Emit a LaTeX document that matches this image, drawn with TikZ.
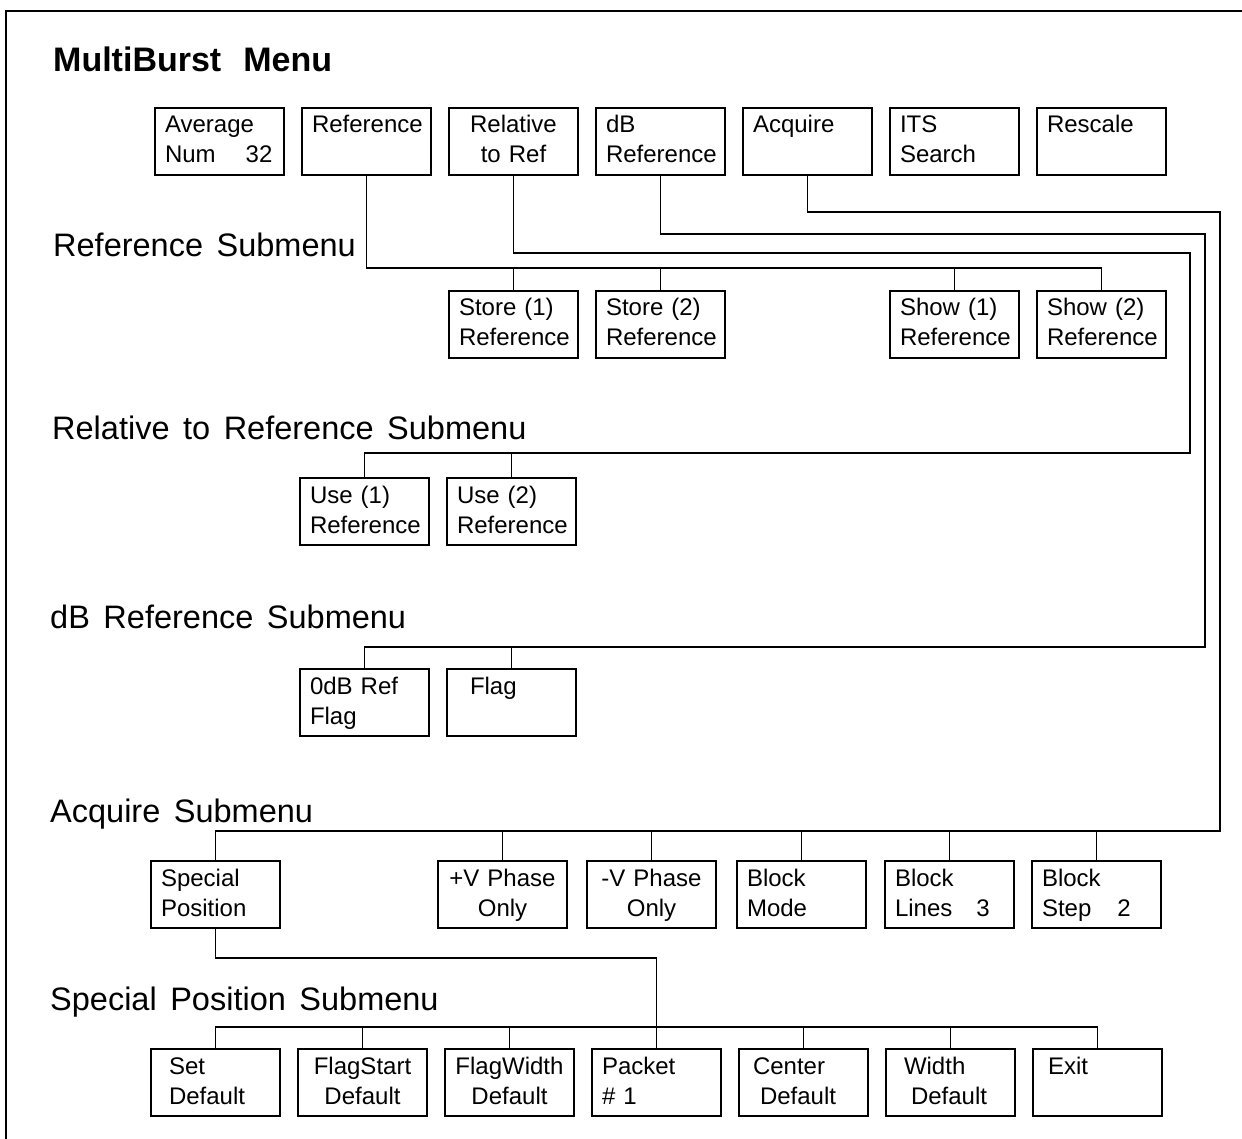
\documentclass[tikz,border=0pt]{standalone}
\usepackage{fontspec}
\setmainfont{Liberation Sans}
\newfontfamily\headfont[WordSpace=1.5]{Liberation Sans}
\usetikzlibrary{positioning}

\newcommand\boxfont{\fontsize{24}{30}\selectfont}

\begin{document}
\begin{tikzpicture}[x=1pt,y=-1pt,node distance=18pt,
	box/.style={draw,line width=1.5pt,outer sep=0pt,minimum width=129pt,minimum height=67pt,
		text width=109pt,inner xsep=10pt,inner ysep=6pt,
		text height=19pt,text depth=36pt,align=left,font=\boxfont},
	cbox/.style={box,align=center},
	head/.style={anchor=base west,inner sep=0pt,font=\headfont\fontsize{32.5}{36}\selectfont},
	wire/.style={line width=1.5pt}]
	\useasboundingbox (0,0) rectangle (1242,1139);
	\draw[line width=2.5pt] (6,1139) -- (6,11) -- (1242,11);

	% main menu
	\node[head,font=\headfont\bfseries\fontsize{34}{36}\selectfont] (title) at (53,72) {MultiBurst\hspace{22pt}Menu};
	\node[box,anchor=north west] (avg) at (155,108) {Average\\Num\hspace{30pt}32};
	\node[box,right=of avg] (ref) {Reference};
	\node[cbox,right=of ref] (rel) {Relative\\to Ref};
	\node[box,right=of rel] (dbr) {dB\\Reference};
	\node[box,right=of dbr] (acq) {Acquire};
	\node[box,right=of acq] (its) {ITS\\Search};
	\node[box,right=of its] (resc) {Rescale};

	% reference submenu
	\node[head] (refhead) at (53,257) {Reference Submenu};
	\node[box,anchor=north west] (st1) at (449,291) {Store (1)\\Reference};
	\node[box,right=of st1] (st2) {Store (2)\\Reference};
	\node[box,anchor=north west] (sh1) at (890,291) {Show (1)\\Reference};
	\node[box,right=of sh1] (sh2) {Show (2)\\Reference};

	% relative to reference submenu
	\node[head] (relhead) at (52,439) {Relative to Reference Submenu};
	\node[box,anchor=north west] (use1) at (300,478) {Use (1)\\Reference};
	\node[box,right=of use1] (use2) {Use (2)\\Reference};

	% dB reference submenu
	\node[head] (dbhead) at (50,628) {dB Reference Submenu};
	\node[box,anchor=north west] (zdb) at (300,669) {0dB Ref\\Flag};
	\node[box,right=of zdb] (flag) {\hspace*{13pt}Flag};

	% acquire submenu
	\node[head] (acqhead) at (50,822) {Acquire Submenu};
	\node[box,anchor=north west] (spos) at (151,861) {Special\\Position};
	\node[cbox,anchor=north west] (pvp) at (438,861) {+V Phase\\Only};
	\node[cbox,right=20pt of pvp] (mvp) {-V Phase\\Only};
	\node[box,right=21pt of mvp] (bmode) {Block\\Mode};
	\node[box,right=19pt of bmode] (blines) {Block\\Lines\hspace{24pt}3};
	\node[box,right=18pt of blines] (bstep) {Block\\Step\hspace{26pt}2};

	% special position submenu
	\node[head] (sphead) at (50,1010) {Special Position Submenu};
	\node[box,anchor=north west] (sdef) at (151,1049) {\hspace*{8pt}Set\\\hspace*{8pt}Default};
	\node[cbox,right=of sdef] (fstart) {FlagStart\\Default};
	\node[cbox,right=of fstart] (fwidth) {FlagWidth\\Default};
	\node[box,right=of fwidth] (pkt) {Packet\\\# 1};
	\node[box,right=of pkt] (cdef) {\hspace*{4pt}Center\\\hspace*{11pt}Default};
	\node[box,right=of cdef] (wdef) {\hspace*{8pt}Width\\\hspace*{15pt}Default};
	\node[box,right=of wdef] (exit) {\hspace*{5pt}Exit};

	% buses and rails
	\coordinate (refbus) at (0,268);
	\coordinate (relrail) at (1190,253);
	\coordinate (relbus) at (0,453);
	\coordinate (dbrail) at (1205,234);
	\coordinate (dbbus) at (0,647);
	\coordinate (acqrail) at (1220,212);
	\coordinate (acqbus) at (0,831);
	\coordinate (spturn) at (0,958);
	\coordinate (spbus) at (0,1027);

	\draw[wire] (ref.south) |- (sh2.north |- refbus) -- (sh2.north);
	\foreach \n in {st1,st2,sh1}
		\draw[wire] (\n.north) -- (\n.north |- refbus);

	\draw[wire] (rel.south) |- (relrail) -- (relrail |- relbus) -| (use1.north);
	\draw[wire] (use2.north) -- (use2.north |- relbus);

	\draw[wire] (dbr.south) |- (dbrail) -- (dbrail |- dbbus) -| (zdb.north);
	\draw[wire] (flag.north) -- (flag.north |- dbbus);

	\draw[wire] (acq.south) |- (acqrail) -- (acqrail |- acqbus) -| (spos.north);
	\foreach \n in {pvp,mvp,bmode,blines,bstep}
		\draw[wire] (\n.north) -- (\n.north |- acqbus);

	\draw[wire] (spos.south) |- (pkt.north |- spturn) -- (pkt.north);
	\draw[wire] (sdef.north) |- (exit.north |- spbus) -- (exit.north);
	\foreach \n in {fstart,fwidth,cdef,wdef}
		\draw[wire] (\n.north) -- (\n.north |- spbus);
\end{tikzpicture}
\end{document}
